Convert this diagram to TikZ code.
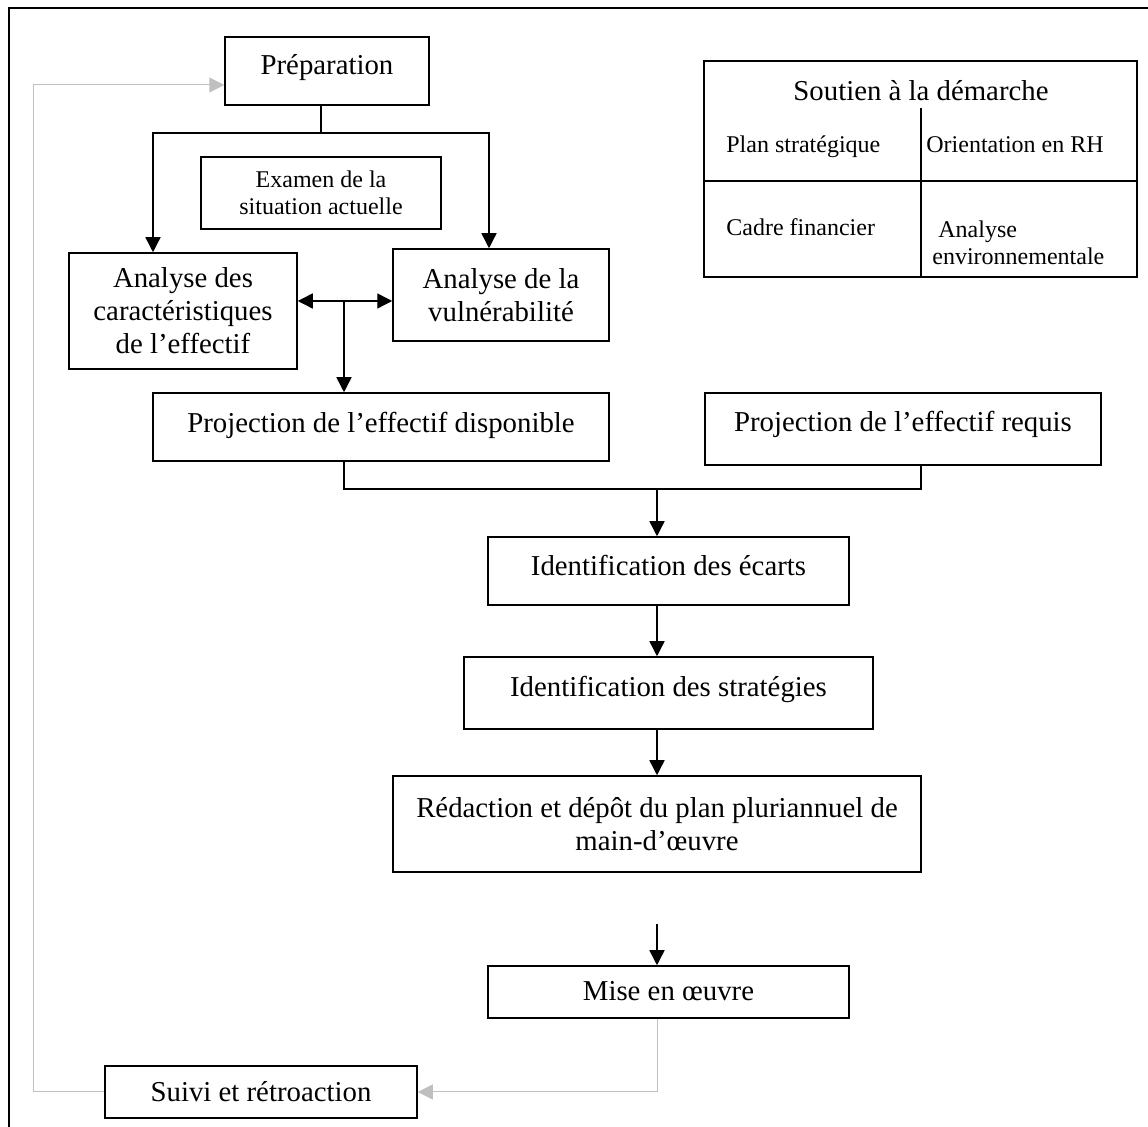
\documentclass[tikz,border=0pt]{standalone}
\usepackage{fontspec}
\setmainfont{Liberation Serif}
\usetikzlibrary{arrows.meta}
\newcommand\bigtxt{\fontsize{14.4}{16.5}\selectfont}
\newcommand\smalltxt{\fontsize{12}{13.8}\selectfont}
\tikzset{
    stage/.style={rectangle,draw,line width=0.75pt,align=center,font=\bigtxt,inner sep=0pt},
    smallstage/.style={stage,font=\smalltxt},
    raised/.style={text height=10pt,text depth=#1},
    cell/.style={font=\smalltxt,inner sep=0pt,align=left},
    flowline/.style={-{Triangle[length=7.5pt,width=7.5pt]},line width=0.7pt},
    bothline/.style={{Triangle[length=7.5pt,width=7.5pt]}-{Triangle[length=7.5pt,width=7.5pt]},line width=0.7pt},
    joinline/.style={line width=0.7pt},
    backline/.style={-{Triangle[length=7.5pt,width=7.5pt]},draw=black!25,line width=0.5pt},
    backjoin/.style={draw=black!25,line width=0.5pt}
}

\begin{document}
\begin{tikzpicture}[x=0.5pt,y=-0.5pt]
            \useasboundingbox (0,0) rectangle (1148,1127);
            \draw[line width=1pt] (9,8) rectangle (1170,1150);
            % etapes
            \node[stage,raised=6.5pt,minimum width=102pt,minimum height=34pt] (prep) at (327,71) {Préparation};
            \node[smallstage,minimum width=120pt,minimum height=36pt] (exam) at (321,193) {Examen de la\\situation actuelle};
            \node[stage,minimum width=114pt,minimum height=58pt] (carac) at (183,311) {Analyse des\\caractéristiques\\de l’effectif};
            \node[stage,minimum width=108pt,minimum height=46pt] (vuln) at (501,295) {Analyse de la\\vulnérabilité};
            \node[stage,raised=4.5pt,minimum width=228pt,minimum height=34pt] (dispo) at (381,427) {Projection de l’effectif disponible};
            \node[stage,raised=7.5pt,minimum width=198pt,minimum height=36pt] (requis) at (903,429) {Projection de l’effectif requis};
            \node[stage,raised=5pt,minimum width=180.5pt,minimum height=34pt] (ecarts) at (668.5,571) {Identification des écarts};
            \node[stage,raised=6pt,minimum width=204.5pt,minimum height=36pt] (strat) at (668.5,693) {Identification des stratégies};
            \node[stage,minimum width=264pt,minimum height=48pt] (redac) at (657,824) {Rédaction et dépôt du plan pluriannuel de\\main-d’œuvre};
            \node[stage,raised=1pt,minimum width=180.5pt,minimum height=26pt] (mise) at (668.5,992) {Mise en œuvre};
            \node[stage,raised=0pt,minimum width=156pt,minimum height=26pt] (suivi) at (261,1092) {Suivi et rétroaction};
            % soutien a la demarche
            \node[draw,line width=0.75pt,minimum width=216.5pt,minimum height=108pt,inner sep=0pt] (soutien) at (920.5,169) {};
            \node[font=\bigtxt,inner sep=0pt] (soutientitle) at (921,91) {Soutien à la démarche};
            \node[cell,anchor=base west] (plan) at (726,153) {Plan stratégique};
            \node[cell,anchor=base west] (orient) at (926,153) {Orientation en RH};
            \node[cell,anchor=base west] (cadre) at (726,236) {Cadre financier};
            \node[cell,anchor=west] (envir) at (932,243) {\hspace{3pt}Analyse\\environnementale};
            \draw[line width=0.75pt] (921,108) -- (soutien.south -| 921,0);
            \draw[line width=0.75pt] (soutien.west |- 0,181) -- (soutien.east |- 0,181);
            % liens
            \coordinate (fork) at (321,133);
            \coordinate (mid) at (344,301);
            \coordinate (merge) at (657,489);
            \coordinate (gap) at (657,924);
            \draw[joinline] (prep.south -| fork) -- (fork);
            \draw[flowline] (fork) -| (carac.north -| 153,0);
            \draw[flowline] (fork) -| (vuln.north -| 489,0);
            \draw[bothline] (carac.east |- mid) -- (vuln.west |- mid);
            \draw[flowline] (mid) -- (dispo.north -| mid);
            \draw[joinline] (dispo.south -| mid) -- (mid |- merge) -- (merge -| requis.south -| 921,0) -- (requis.south -| 921,0);
            \draw[flowline] (merge) -- (ecarts.north -| merge);
            \draw[flowline] (ecarts.south -| merge) -- (strat.north -| merge);
            \draw[flowline] (strat.south -| merge) -- (redac.north -| merge);
            \draw[flowline] (gap) -- (mise.north -| gap);
            % retour
            \draw[backjoin] (mise.south -| gap) -- (gap |- suivi.east);
            \draw[backline] (gap |- suivi.east) -- (suivi.east);
            \draw[backline] (suivi.west) -| (33,85) -- (prep.west |- 0,85);
        \end{tikzpicture}
\end{document}
